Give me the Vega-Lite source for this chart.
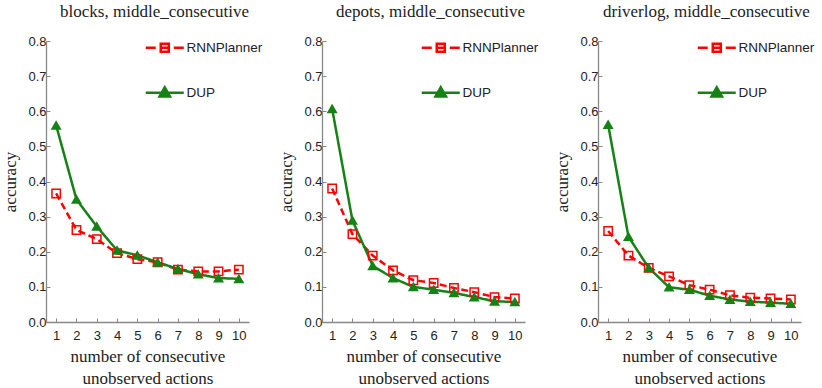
{
  "$schema": "https://vega.github.io/schema/vega-lite/v6.json",
  "padding": {"left": 1, "top": 3, "right": 0, "bottom": 0},
  "background": "white",
  "data": {"values": [
    {"domain": "blocks", "method": "RNNPlanner", "k": 1, "acc": 0.366},
    {"domain": "blocks", "method": "RNNPlanner", "k": 2, "acc": 0.262},
    {"domain": "blocks", "method": "RNNPlanner", "k": 3, "acc": 0.236},
    {"domain": "blocks", "method": "RNNPlanner", "k": 4, "acc": 0.196},
    {"domain": "blocks", "method": "RNNPlanner", "k": 5, "acc": 0.179},
    {"domain": "blocks", "method": "RNNPlanner", "k": 6, "acc": 0.170},
    {"domain": "blocks", "method": "RNNPlanner", "k": 7, "acc": 0.149},
    {"domain": "blocks", "method": "RNNPlanner", "k": 8, "acc": 0.144},
    {"domain": "blocks", "method": "RNNPlanner", "k": 9, "acc": 0.144},
    {"domain": "blocks", "method": "RNNPlanner", "k": 10, "acc": 0.149},
    {"domain": "blocks", "method": "DUP", "k": 1, "acc": 0.560},
    {"domain": "blocks", "method": "DUP", "k": 2, "acc": 0.349},
    {"domain": "blocks", "method": "DUP", "k": 3, "acc": 0.272},
    {"domain": "blocks", "method": "DUP", "k": 4, "acc": 0.204},
    {"domain": "blocks", "method": "DUP", "k": 5, "acc": 0.190},
    {"domain": "blocks", "method": "DUP", "k": 6, "acc": 0.170},
    {"domain": "blocks", "method": "DUP", "k": 7, "acc": 0.151},
    {"domain": "blocks", "method": "DUP", "k": 8, "acc": 0.136},
    {"domain": "blocks", "method": "DUP", "k": 9, "acc": 0.125},
    {"domain": "blocks", "method": "DUP", "k": 10, "acc": 0.123},
    {"domain": "depots", "method": "RNNPlanner", "k": 1, "acc": 0.380},
    {"domain": "depots", "method": "RNNPlanner", "k": 2, "acc": 0.250},
    {"domain": "depots", "method": "RNNPlanner", "k": 3, "acc": 0.189},
    {"domain": "depots", "method": "RNNPlanner", "k": 4, "acc": 0.147},
    {"domain": "depots", "method": "RNNPlanner", "k": 5, "acc": 0.119},
    {"domain": "depots", "method": "RNNPlanner", "k": 6, "acc": 0.111},
    {"domain": "depots", "method": "RNNPlanner", "k": 7, "acc": 0.097},
    {"domain": "depots", "method": "RNNPlanner", "k": 8, "acc": 0.085},
    {"domain": "depots", "method": "RNNPlanner", "k": 9, "acc": 0.071},
    {"domain": "depots", "method": "RNNPlanner", "k": 10, "acc": 0.067},
    {"domain": "depots", "method": "DUP", "k": 1, "acc": 0.607},
    {"domain": "depots", "method": "DUP", "k": 2, "acc": 0.289},
    {"domain": "depots", "method": "DUP", "k": 3, "acc": 0.160},
    {"domain": "depots", "method": "DUP", "k": 4, "acc": 0.125},
    {"domain": "depots", "method": "DUP", "k": 5, "acc": 0.100},
    {"domain": "depots", "method": "DUP", "k": 6, "acc": 0.092},
    {"domain": "depots", "method": "DUP", "k": 7, "acc": 0.083},
    {"domain": "depots", "method": "DUP", "k": 8, "acc": 0.071},
    {"domain": "depots", "method": "DUP", "k": 9, "acc": 0.059},
    {"domain": "depots", "method": "DUP", "k": 10, "acc": 0.057},
    {"domain": "driverlog", "method": "RNNPlanner", "k": 1, "acc": 0.259},
    {"domain": "driverlog", "method": "RNNPlanner", "k": 2, "acc": 0.189},
    {"domain": "driverlog", "method": "RNNPlanner", "k": 3, "acc": 0.154},
    {"domain": "driverlog", "method": "RNNPlanner", "k": 4, "acc": 0.130},
    {"domain": "driverlog", "method": "RNNPlanner", "k": 5, "acc": 0.105},
    {"domain": "driverlog", "method": "RNNPlanner", "k": 6, "acc": 0.092},
    {"domain": "driverlog", "method": "RNNPlanner", "k": 7, "acc": 0.076},
    {"domain": "driverlog", "method": "RNNPlanner", "k": 8, "acc": 0.069},
    {"domain": "driverlog", "method": "RNNPlanner", "k": 9, "acc": 0.067},
    {"domain": "driverlog", "method": "RNNPlanner", "k": 10, "acc": 0.064},
    {"domain": "driverlog", "method": "DUP", "k": 1, "acc": 0.562},
    {"domain": "driverlog", "method": "DUP", "k": 2, "acc": 0.243},
    {"domain": "driverlog", "method": "DUP", "k": 3, "acc": 0.154},
    {"domain": "driverlog", "method": "DUP", "k": 4, "acc": 0.099},
    {"domain": "driverlog", "method": "DUP", "k": 5, "acc": 0.092},
    {"domain": "driverlog", "method": "DUP", "k": 6, "acc": 0.075},
    {"domain": "driverlog", "method": "DUP", "k": 7, "acc": 0.064},
    {"domain": "driverlog", "method": "DUP", "k": 8, "acc": 0.058},
    {"domain": "driverlog", "method": "DUP", "k": 9, "acc": 0.055},
    {"domain": "driverlog", "method": "DUP", "k": 10, "acc": 0.052}
  ]},
  "spacing": 14,
  "resolve": {
    "scale": {"color": "independent", "shape": "independent", "fill": "independent", "strokeDash": "independent"},
    "legend": {"color": "independent"}
  },
  "hconcat": [
    {
      "title": {"text": "blocks, middle_consecutive", "dx": 7},
      "width": 203, "height": 281,
      "transform": [{"filter": "datum.domain === 'blocks'"}],
      "encoding": {
        "x": {"field": "k", "type": "ordinal", "scale": {"type": "point", "padding": 0.5}, "axis": {"title": ["number of consecutive", "unobserved actions"]}},
        "y": {"field": "acc", "type": "quantitative", "scale": {"domain": [0, 0.8], "nice": false}, "axis": {"title": "accuracy", "values": [0, 0.1, 0.2, 0.3, 0.4, 0.5, 0.6, 0.7, 0.8], "format": ".1f"}}
      },
      "layer": [
        {
          "encoding": {"color": {"field": "method", "type": "nominal", "scale": {"domain": ["RNNPlanner", "DUP"], "range": ["#ff0000", "#168216"]}, "legend": null}},
          "layer": [
            {"mark": {"type": "line", "strokeWidth": 2.5}, "encoding": {"strokeDash": {"field": "method", "type": "nominal", "scale": {"domain": ["RNNPlanner", "DUP"], "range": [[7, 4], [1, 0]]}, "legend": null}}},
            {"mark": {"type": "point", "size": 70, "strokeWidth": 1.5, "opacity": 1}, "encoding": {
              "shape": {"field": "method", "type": "nominal", "scale": {"domain": ["RNNPlanner", "DUP"], "range": ["square", "triangle-up"]}, "legend": null},
              "fill": {"field": "method", "type": "nominal", "scale": {"domain": ["RNNPlanner", "DUP"], "range": ["transparent", "#168216"]}, "legend": null}}}
          ]
        },
        {
          "transform": [{"filter": "datum.k > 100"}],
          "mark": {"type": "point", "filled": false, "opacity": 1, "strokeWidth": 2.5},
          "encoding": {"color": {"field": "method", "type": "nominal", "scale": {"domain": ["RNNPlanner"], "range": ["#ff0000"]},
            "legend": {"orient": "none", "legendX": 112, "legendY": 0, "title": null, "padding": 0, "symbolType": "M-3.8,0H-1.8M1.8,0H3.8M-0.8,-0.8H0.8V0.8H-0.8ZM-0.8,0H0.8", "symbolSize": 100, "symbolStrokeWidth": 2.5, "symbolFillColor": "transparent", "symbolOpacity": 1, "labelOffset": 15}}}
        },
        {
          "transform": [{"filter": "datum.k > 100"}],
          "mark": {"type": "point", "filled": true, "opacity": 1},
          "encoding": {"color": {"field": "method", "type": "nominal", "scale": {"domain": ["DUP"], "range": ["#168216"]},
            "legend": {"orient": "none", "legendX": 112, "legendY": 45, "title": null, "padding": 0, "symbolType": "M-3.8,0H3.8M0,-1.1L1.05,0.75H-1.05Z", "symbolSize": 100, "symbolStrokeWidth": 2.5, "symbolStrokeColor": "#168216", "symbolOpacity": 1, "labelOffset": 15}}}
        }
      ],
      "resolve": {"scale": {"color": "independent"}, "legend": {"color": "independent"}}
    },
    {
      "title": {"text": "depots, middle_consecutive", "dx": 7},
      "width": 203, "height": 281,
      "transform": [{"filter": "datum.domain === 'depots'"}],
      "encoding": {
        "x": {"field": "k", "type": "ordinal", "scale": {"type": "point", "padding": 0.5}, "axis": {"title": ["number of consecutive", "unobserved actions"]}},
        "y": {"field": "acc", "type": "quantitative", "scale": {"domain": [0, 0.8], "nice": false}, "axis": {"title": "accuracy", "values": [0, 0.1, 0.2, 0.3, 0.4, 0.5, 0.6, 0.7, 0.8], "format": ".1f"}}
      },
      "layer": [
        {
          "encoding": {"color": {"field": "method", "type": "nominal", "scale": {"domain": ["RNNPlanner", "DUP"], "range": ["#ff0000", "#168216"]}, "legend": null}},
          "layer": [
            {"mark": {"type": "line", "strokeWidth": 2.5}, "encoding": {"strokeDash": {"field": "method", "type": "nominal", "scale": {"domain": ["RNNPlanner", "DUP"], "range": [[7, 4], [1, 0]]}, "legend": null}}},
            {"mark": {"type": "point", "size": 70, "strokeWidth": 1.5, "opacity": 1}, "encoding": {
              "shape": {"field": "method", "type": "nominal", "scale": {"domain": ["RNNPlanner", "DUP"], "range": ["square", "triangle-up"]}, "legend": null},
              "fill": {"field": "method", "type": "nominal", "scale": {"domain": ["RNNPlanner", "DUP"], "range": ["transparent", "#168216"]}, "legend": null}}}
          ]
        },
        {
          "transform": [{"filter": "datum.k > 100"}],
          "mark": {"type": "point", "filled": false, "opacity": 1, "strokeWidth": 2.5},
          "encoding": {"color": {"field": "method", "type": "nominal", "scale": {"domain": ["RNNPlanner"], "range": ["#ff0000"]},
            "legend": {"orient": "none", "legendX": 112, "legendY": 0, "title": null, "padding": 0, "symbolType": "M-3.8,0H-1.8M1.8,0H3.8M-0.8,-0.8H0.8V0.8H-0.8ZM-0.8,0H0.8", "symbolSize": 100, "symbolStrokeWidth": 2.5, "symbolFillColor": "transparent", "symbolOpacity": 1, "labelOffset": 15}}}
        },
        {
          "transform": [{"filter": "datum.k > 100"}],
          "mark": {"type": "point", "filled": true, "opacity": 1},
          "encoding": {"color": {"field": "method", "type": "nominal", "scale": {"domain": ["DUP"], "range": ["#168216"]},
            "legend": {"orient": "none", "legendX": 112, "legendY": 45, "title": null, "padding": 0, "symbolType": "M-3.8,0H3.8M0,-1.1L1.05,0.75H-1.05Z", "symbolSize": 100, "symbolStrokeWidth": 2.5, "symbolStrokeColor": "#168216", "symbolOpacity": 1, "labelOffset": 15}}}
        }
      ],
      "resolve": {"scale": {"color": "independent"}, "legend": {"color": "independent"}}
    },
    {
      "title": {"text": "driverlog, middle_consecutive", "dx": 7},
      "width": 203, "height": 281,
      "transform": [{"filter": "datum.domain === 'driverlog'"}],
      "encoding": {
        "x": {"field": "k", "type": "ordinal", "scale": {"type": "point", "padding": 0.5}, "axis": {"title": ["number of consecutive", "unobserved actions"]}},
        "y": {"field": "acc", "type": "quantitative", "scale": {"domain": [0, 0.8], "nice": false}, "axis": {"title": "accuracy", "values": [0, 0.1, 0.2, 0.3, 0.4, 0.5, 0.6, 0.7, 0.8], "format": ".1f"}}
      },
      "layer": [
        {
          "encoding": {"color": {"field": "method", "type": "nominal", "scale": {"domain": ["RNNPlanner", "DUP"], "range": ["#ff0000", "#168216"]}, "legend": null}},
          "layer": [
            {"mark": {"type": "line", "strokeWidth": 2.5}, "encoding": {"strokeDash": {"field": "method", "type": "nominal", "scale": {"domain": ["RNNPlanner", "DUP"], "range": [[7, 4], [1, 0]]}, "legend": null}}},
            {"mark": {"type": "point", "size": 70, "strokeWidth": 1.5, "opacity": 1}, "encoding": {
              "shape": {"field": "method", "type": "nominal", "scale": {"domain": ["RNNPlanner", "DUP"], "range": ["square", "triangle-up"]}, "legend": null},
              "fill": {"field": "method", "type": "nominal", "scale": {"domain": ["RNNPlanner", "DUP"], "range": ["transparent", "#168216"]}, "legend": null}}}
          ]
        },
        {
          "transform": [{"filter": "datum.k > 100"}],
          "mark": {"type": "point", "filled": false, "opacity": 1, "strokeWidth": 2.5},
          "encoding": {"color": {"field": "method", "type": "nominal", "scale": {"domain": ["RNNPlanner"], "range": ["#ff0000"]},
            "legend": {"orient": "none", "legendX": 112, "legendY": 0, "title": null, "padding": 0, "symbolType": "M-3.8,0H-1.8M1.8,0H3.8M-0.8,-0.8H0.8V0.8H-0.8ZM-0.8,0H0.8", "symbolSize": 100, "symbolStrokeWidth": 2.5, "symbolFillColor": "transparent", "symbolOpacity": 1, "labelOffset": 15}}}
        },
        {
          "transform": [{"filter": "datum.k > 100"}],
          "mark": {"type": "point", "filled": true, "opacity": 1},
          "encoding": {"color": {"field": "method", "type": "nominal", "scale": {"domain": ["DUP"], "range": ["#168216"]},
            "legend": {"orient": "none", "legendX": 112, "legendY": 45, "title": null, "padding": 0, "symbolType": "M-3.8,0H3.8M0,-1.1L1.05,0.75H-1.05Z", "symbolSize": 100, "symbolStrokeWidth": 2.5, "symbolStrokeColor": "#168216", "symbolOpacity": 1, "labelOffset": 15}}}
        }
      ],
      "resolve": {"scale": {"color": "independent"}, "legend": {"color": "independent"}}
    }
  ],
  "config": {
    "view": {"stroke": null},
    "legend": {"labelFont": "Liberation Sans", "labelFontSize": 13.5, "labelColor": "#222222"},
    "axis": {
      "grid": false,
      "domainColor": "#888888",
      "domainWidth": 1.3,
      "tickColor": "#888888",
      "tickSize": -4,
      "labelFont": "Liberation Sans",
      "labelFontSize": 13,
      "labelColor": "#222222",
      "labelAngle": 0,
      "titleFont": "Liberation Serif",
      "titleFontSize": 17,
      "titleFontWeight": "normal",
      "titleColor": "#222222"
    },
    "axisX": {"labelPadding": 11, "titlePadding": 6, "titleLineHeight": 22},
    "axisY": {"labelPadding": 4, "titlePadding": 8},
    "title": {"font": "Liberation Serif", "fontSize": 17, "fontWeight": "normal", "color": "#222222", "offset": 14}
  }
}
